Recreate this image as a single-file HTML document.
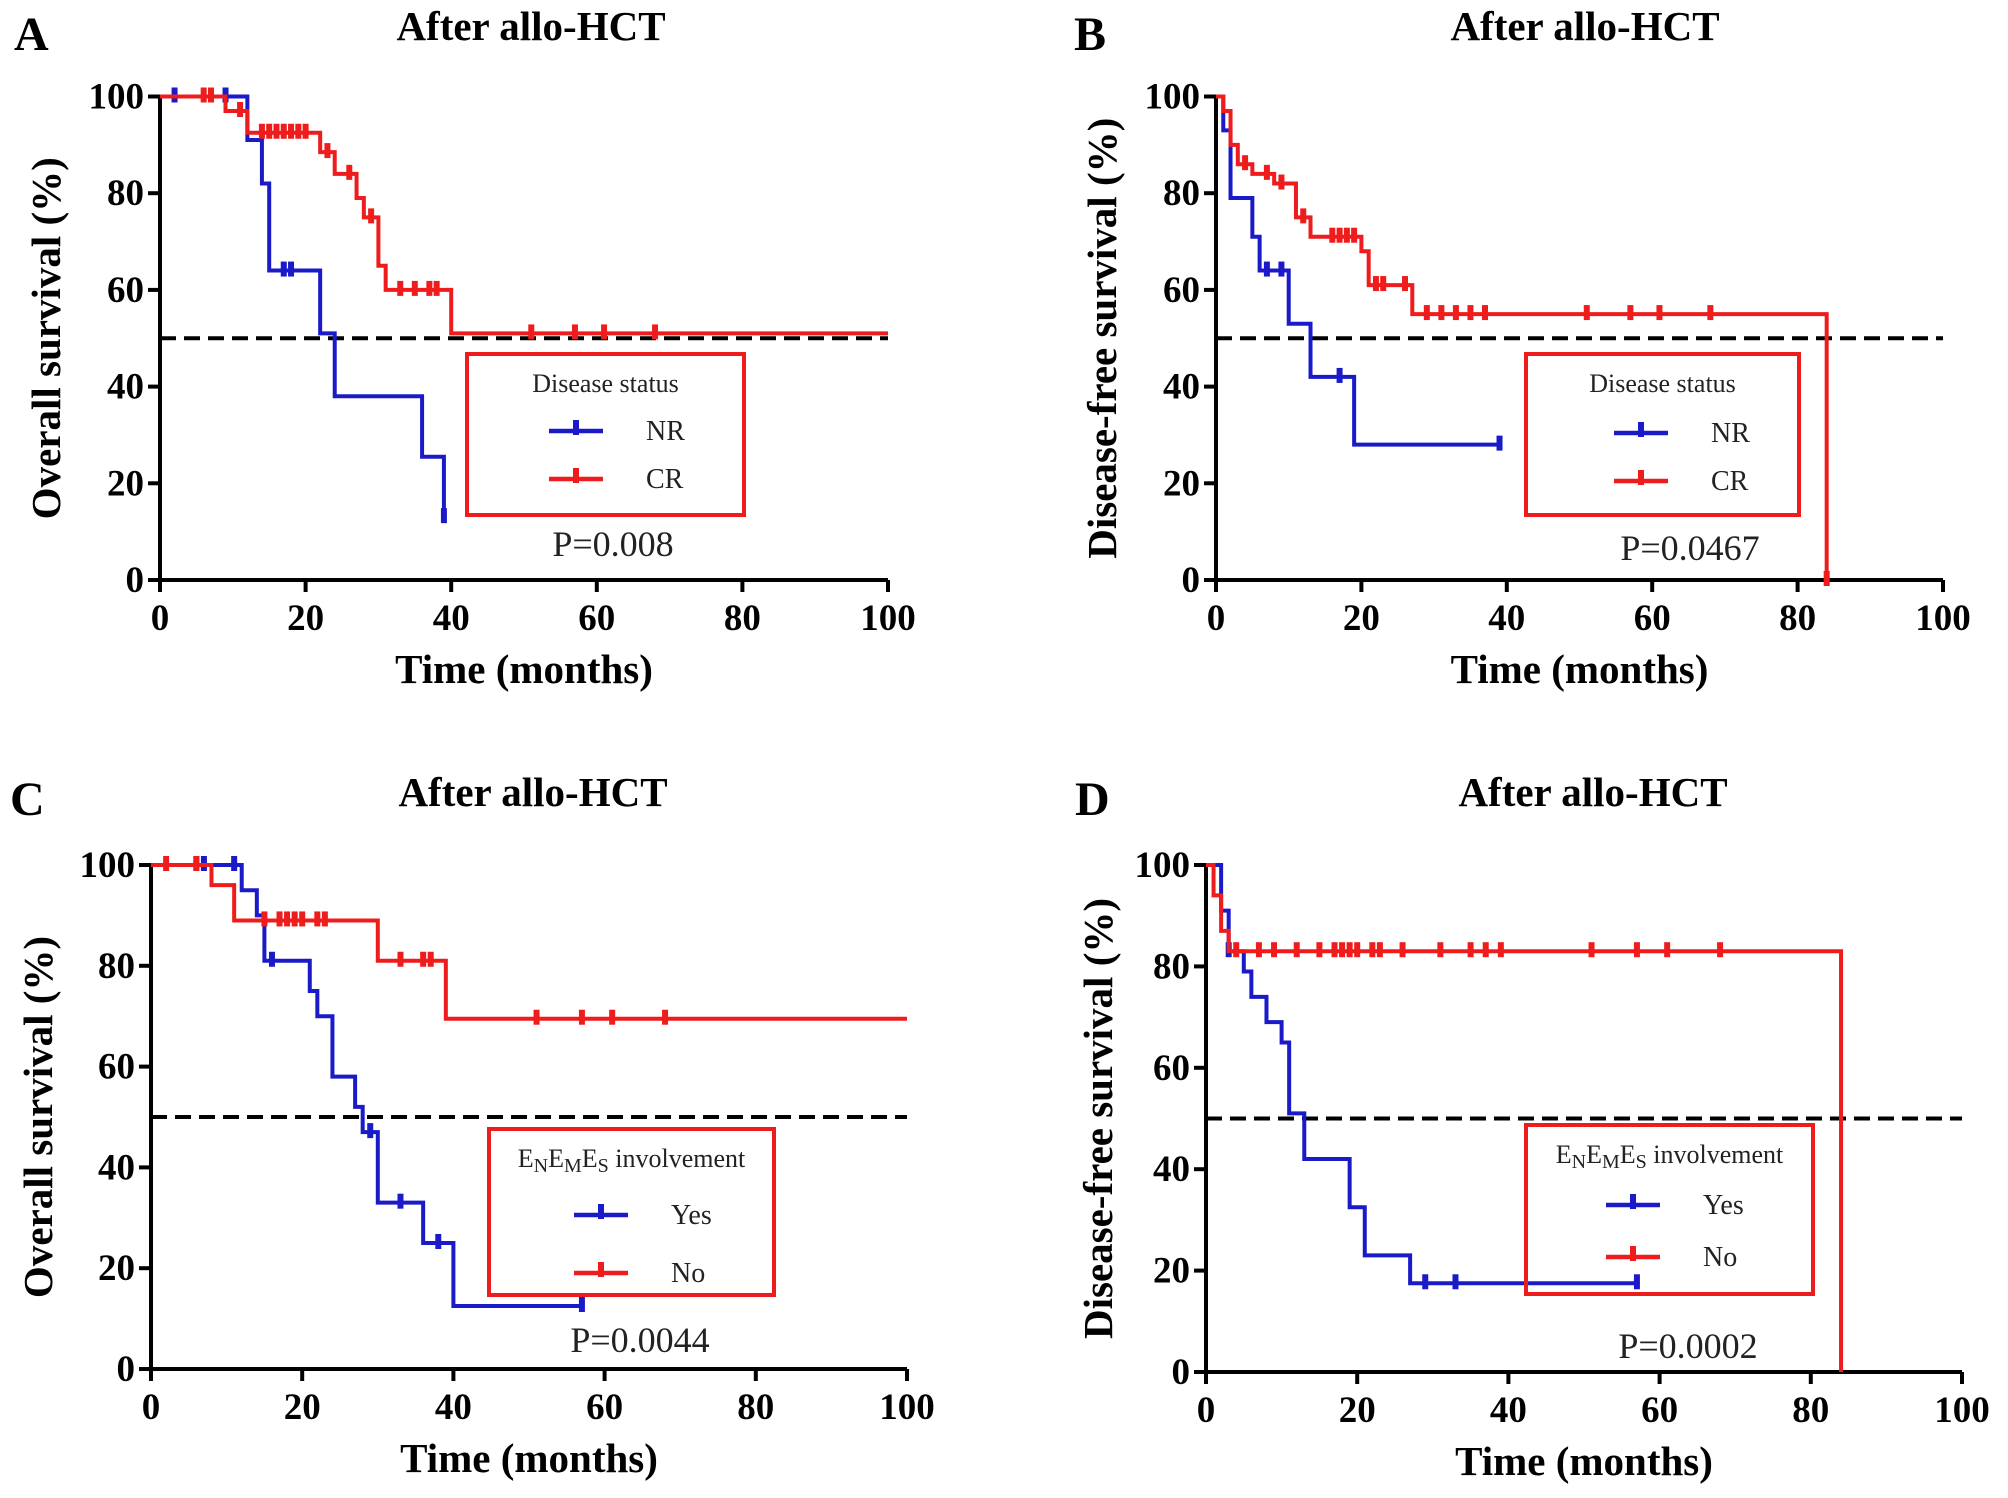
<!DOCTYPE html>
<html><head><meta charset="utf-8"><style>
html,body{margin:0;padding:0;background:#fff;}
svg{display:block;font-family:"Liberation Serif",serif;}
</style></head><body>
<svg id="fig" width="2008" height="1498" viewBox="0 0 2008 1498"></svg>
<script>
// ---- Data (time in months, survival %) ----
const aNRTimes=[0,12,14,15,22,24,36,39];
const aNRSurv=[100,91,82,64,51,38,25.5,13];
const aNREnd=39;
const aNRCensT=[2,7,9,17,18,39];
const aNRCensS=[100,100,100,64,64,13];
const aCRTimes=[0,9,12,22,24,27,28,30,31,40];
const aCRSurv=[100,97,92.5,88.5,84,79,75,65,60,51];
const aCREnd=100;
const aCRCensT=[6,7,11,14,15,16,17,18,19,20,23,26,29,33,35,37,38,51,57,61,68];
const aCRCensS=[100,100,97,92.5,92.5,92.5,92.5,92.5,92.5,92.5,88.5,84,75,60,60,60,60,51,51,51,51];
const bNRTimes=[0,1,2,5,6,10,13,19];
const bNRSurv=[100,93,79,71,64,53,42,28];
const bNREnd=39;
const bNRCensT=[7,9,17,39];
const bNRCensS=[64,64,42,28];
const bCRTimes=[0,1,2,3,5,8,11,13,20,21,27,84];
const bCRSurv=[100,97,90,86,84,82,75,71,68,61,55,0];
const bCREnd=84;
const bCRCensT=[4,7,9,12,16,17,18,19,22,23,26,29,31,33,35,37,51,57,61,68,84];
const bCRCensS=[86,84,82,75,71,71,71,71,61,61,61,55,55,55,55,55,55,55,55,55,0];
const cYTimes=[0,12,14,15,21,22,24,27,28,30,36,40];
const cYSurv=[100,95,90,81,75,70,58,52,47,33,25,12.5];
const cYEnd=57;
const cYCensT=[6,7,11,16,29,33,38,57];
const cYCensS=[100,100,100,81,47,33,25,12.5];
const cNTimes=[0,8,11,30,39];
const cNSurv=[100,96,89,81,69.5];
const cNEnd=100;
const cNCensT=[2,6,15,17,18,19,20,22,23,33,36,37,51,57,61,68];
const cNCensS=[100,100,89,89,89,89,89,89,89,81,81,81,69.5,69.5,69.5,69.5];
const dYTimes=[0,2,3,5,6,8,10,11,13,19,21,27];
const dYSurv=[100,91,83,79,74,69,65,51,42,32.5,23,17.5];
const dYEnd=57;
const dYCensT=[3,29,33,57];
const dYCensS=[83,17.5,17.5,17.5];
const dNTimes=[0,1,2,3,84];
const dNSurv=[100,94,87,83,0];
const dNEnd=84;
const dNCensT=[4,7,9,12,15,17,18,19,20,22,23,26,31,35,37,39,51,57,61,68];
const dNCensS=[83,83,83,83,83,83,83,83,83,83,83,83,83,83,83,83,83,83,83,83];
const xTicks=[0,20,40,60,80,100];
const yTicks=[0,20,40,60,80,100];

const NS="http://www.w3.org/2000/svg";
const svg=document.getElementById('fig');
function el(tag,attrs,parent,text){
  const e=document.createElementNS(NS,tag);
  for(const k in attrs)e.setAttribute(k,attrs[k]);
  if(text!==undefined)e.textContent=text;
  (parent||svg).appendChild(e);return e;
}
const BLUE="#1a1ac8",RED="#ee1c1c";

function panel(p){
  const g=el('g',{});
  
  
  const xs=v=>p.x0+(p.x1-p.x0)*v/100;
  const ys=v=>p.y0+(p.y1-p.y0)*v/100;
  const lt=el('text',{x:p.lx,y:p.ly,'font-size':48,'font-weight':'bold'},g,p.id);
  
  const t=el('text',{x:p.tx,y:p.ty,'font-size':41,'font-weight':'bold','text-anchor':'middle'},g,'After allo-HCT');
  
  const ax=el('path',{d:`M${p.x0} ${ys(100)}V${p.y0}H${p.x1}`,stroke:'#000','stroke-width':4,fill:'none'},g);
  
  xTicks.forEach(v=>{
    el('line',{x1:xs(v),x2:xs(v),y1:p.y0,y2:p.y0+12,stroke:'#000','stroke-width':4},g);
    const tl=el('text',{x:xs(v),y:p.y0+50,'font-size':37,'font-weight':'bold','text-anchor':'middle'},g,String(v));
    
  });
  yTicks.forEach(v=>{
    el('line',{x1:p.x0-12,x2:p.x0,y1:ys(v),y2:ys(v),stroke:'#000','stroke-width':4},g);
    const tl=el('text',{x:p.x0-16,y:ys(v)+12,'font-size':37,'font-weight':'bold','text-anchor':'end'},g,String(v));
    
  });
  const xl=el('text',{x:(p.x0+p.x1)/2,y:p.y0+103,'font-size':41,'font-weight':'bold','text-anchor':'middle'},g,'Time (months)');
  
  const yl=el('text',{x:0,y:0,'font-size':41,'font-weight':'bold','text-anchor':'middle',transform:`translate(${p.yx},${(p.y0+ys(100))/2}) rotate(-90)`},g,p.ylabel);
  
  const d=el('line',{x1:xs(0),x2:xs(100),y1:ys(50),y2:ys(50),stroke:'#000','stroke-width':4,'stroke-dasharray':'16 8'},g);
  
  p.series.forEach(s=>{
    let path=`M${xs(s.t[0])} ${ys(s.s[0])}`;
    for(let i=1;i<s.t.length;i++){path+=`H${xs(s.t[i])}V${ys(s.s[i])}`;}
    path+=`H${xs(s.end)}`;
    const pl=el('path',{d:path,stroke:s.c,'stroke-width':4,fill:'none'},g);
    
    s.ct.forEach((ct,i)=>{
      const m=el('line',{x1:xs(ct),x2:xs(ct),y1:ys(s.cs[i])-9,y2:ys(s.cs[i])+6,stroke:s.c,'stroke-width':6},g);
      
    });
  });
  const L=p.leg;
  const lb=el('rect',{x:L.x,y:L.y,width:L.w,height:L.h,fill:'none',stroke:RED,'stroke-width':4},g);
  
  const lt2=el('text',{x:L.x+L.w/2,y:L.y+38,'font-size':26,'text-anchor':'middle',fill:'#222'},g);
  
  if(p.enemes){
    const parts=[['E',0],['N',1],['E',0],['M',1],['E',0],['S',1],[' involvement',0]];
    parts.forEach(([tx,sub])=>{el('tspan',sub?{'baseline-shift':'-25%','font-size':20}:{},lt2,tx);});
  } else lt2.textContent=p.legTitle;
  p.series.forEach((s,i)=>{
    const yy=L.y+L.r1+i*L.dr;
    const e=el('g',{},g);
    
    el('line',{x1:L.x+L.lx,x2:L.x+L.lx+54,y1:yy,y2:yy,stroke:s.c,'stroke-width':4.5},e);
    el('line',{x1:L.x+L.lx+27,x2:L.x+L.lx+27,y1:yy-11,y2:yy+4,stroke:s.c,'stroke-width':6},e);
    el('text',{x:L.x+L.lx+97,y:yy+9,'font-size':28,fill:'#222'},e,s.label);
  });
  const pv=el('text',{x:p.px,y:p.py,'font-size':36,'text-anchor':'middle',fill:'#222'},g,p.pval);
  
}

panel({id:'A',x0:160,x1:888,y0:580,y1:96.5,lx:14,ly:50,tx:531,ty:40,yx:60,ylabel:'Overall survival (%)',
  legTitle:'Disease status',leg:{x:467,y:354,w:277,h:161,lx:82,r1:77,dr:48},px:613,py:556,pval:'P=0.008',
  series:[{name:'nr',label:'NR',c:BLUE,t:aNRTimes,s:aNRSurv,end:aNREnd,ct:aNRCensT,cs:aNRCensS},
          {name:'cr',label:'CR',c:RED,t:aCRTimes,s:aCRSurv,end:aCREnd,ct:aCRCensT,cs:aCRCensS}]});
panel({id:'B',x0:1216,x1:1943,y0:580,y1:96.5,lx:1074,ly:50,tx:1585,ty:40,yx:1116,ylabel:'Disease-free survival (%)',
  legTitle:'Disease status',leg:{x:1526,y:354,w:273,h:161,lx:88,r1:79,dr:48},px:1690,py:560,pval:'P=0.0467',
  series:[{name:'nr',label:'NR',c:BLUE,t:bNRTimes,s:bNRSurv,end:bNREnd,ct:bNRCensT,cs:bNRCensS},
          {name:'cr',label:'CR',c:RED,t:bCRTimes,s:bCRSurv,end:bCREnd,ct:bCRCensT,cs:bCRCensS}]});
panel({id:'C',x0:151,x1:907,y0:1369,y1:865,lx:10,ly:815,tx:533,ty:806,yx:52,ylabel:'Overall survival (%)',
  enemes:true,leg:{x:489,y:1129,w:285,h:166,lx:85,r1:86,dr:58},px:640,py:1352,pval:'P=0.0044',
  series:[{name:'yes',label:'Yes',c:BLUE,t:cYTimes,s:cYSurv,end:cYEnd,ct:cYCensT,cs:cYCensS},
          {name:'no',label:'No',c:RED,t:cNTimes,s:cNSurv,end:cNEnd,ct:cNCensT,cs:cNCensS}]});
panel({id:'D',x0:1206,x1:1962,y0:1372,y1:865,lx:1075,ly:815,tx:1593,ty:806,yx:1112,ylabel:'Disease-free survival (%)',
  enemes:true,leg:{x:1526,y:1125,w:287,h:169,lx:80,r1:80,dr:52},px:1688,py:1358,pval:'P=0.0002',
  series:[{name:'yes',label:'Yes',c:BLUE,t:dYTimes,s:dYSurv,end:dYEnd,ct:dYCensT,cs:dYCensS},
          {name:'no',label:'No',c:RED,t:dNTimes,s:dNSurv,end:dNEnd,ct:dNCensT,cs:dNCensS}]});
</script>
</body></html>
